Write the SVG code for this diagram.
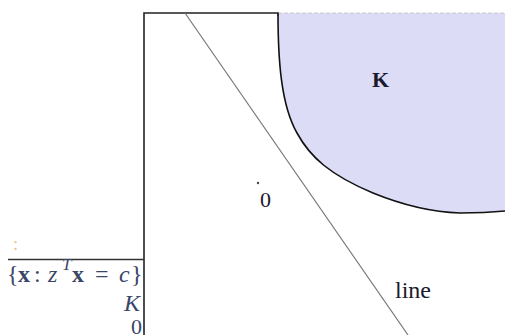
<svg xmlns="http://www.w3.org/2000/svg" width="505" height="335" viewBox="0 0 505 335">
<style>
.serif{font-family:"Liberation Serif","DejaVu Serif",serif;}
.lbl{fill:#1a1a2e;}
.math{fill:#3a4668;}
</style>
<rect width="505" height="335" fill="#ffffff"/>
<g id="region-K">
<path d="M278,13 C278,60 281,105 297,133 C310,157 330,175 373,193 C400,204 430,212 460,213 C480,213 495,212 505,211 L505,13 Z" fill="#dcdcf6"/>
<path d="M278,13 C278,60 281,105 297,133 C310,157 330,175 373,193 C400,204 430,212 460,213 C480,213 495,212 505,211" fill="none" stroke="#111" stroke-width="1.6"/>
<line x1="278" y1="13" x2="505" y2="13" stroke="#c8c8d0" stroke-width="1" stroke-dasharray="4,2"/>
<text class="serif lbl" x="372" y="87" font-size="22" font-weight="bold">K</text>
</g>
<g id="frame">
<path d="M144,335 L144,13 L278,13 L278,16" fill="none" stroke="#222" stroke-width="1.6"/>
<line x1="8" y1="259.5" x2="144" y2="259.5" stroke="#333" stroke-width="1.4"/>
</g>
<g id="connectors">
<line x1="185" y1="13" x2="408" y2="335" stroke="#777" stroke-width="1.2"/>
</g>
<g id="origin">
<circle cx="258" cy="183" r="1.2" fill="#444"/>
<text class="serif lbl" x="260" y="207" font-size="22">0</text>
</g>
<g id="line-label">
<text class="serif lbl" x="395" y="298" font-size="24">line</text>
</g>
<g id="left-labels">
<text class="serif" x="13" y="250" font-size="18" fill="#e2c890">:</text>
<text class="serif math" y="282" font-size="24">
<tspan x="7">{</tspan><tspan x="18" font-weight="bold">x</tspan><tspan x="34">:</tspan><tspan x="48" font-style="italic">z</tspan><tspan x="62" y="270" font-size="17" font-style="italic">T</tspan><tspan x="72" y="282" font-weight="bold">x</tspan><tspan x="95">=</tspan><tspan x="119" font-style="italic">c</tspan><tspan x="131">}</tspan>
</text>
<text class="serif math" x="124" y="311" font-size="24" font-style="italic">K</text>
<text class="serif math" x="131" y="334" font-size="22">0</text>
</g>
</svg>
